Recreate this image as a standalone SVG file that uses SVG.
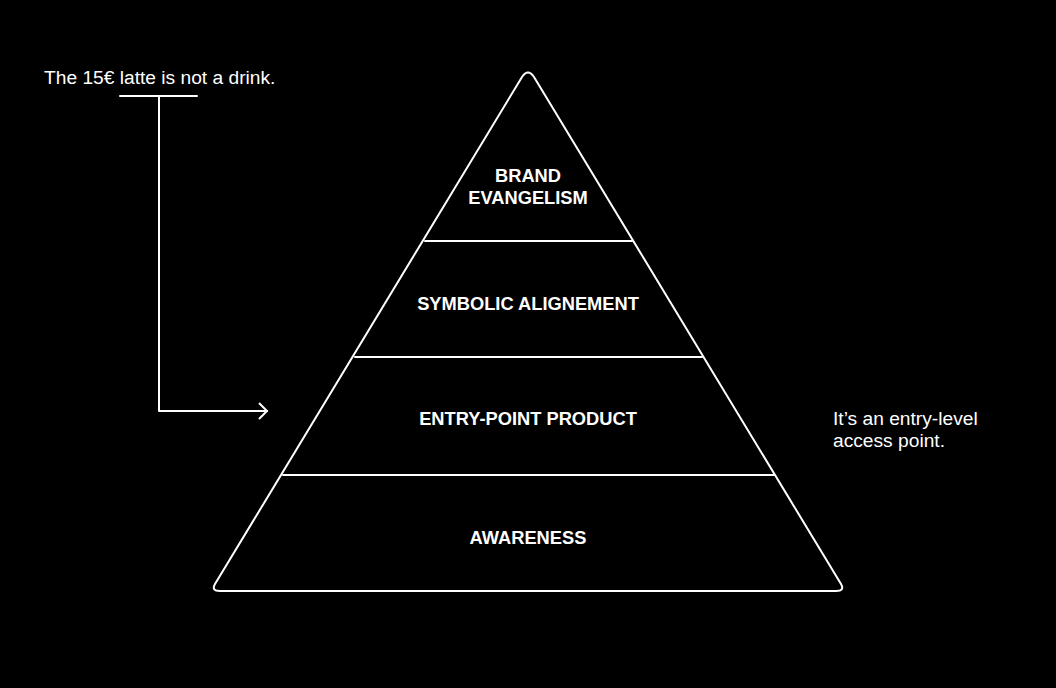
<svg xmlns="http://www.w3.org/2000/svg" width="1056" height="688" viewBox="0 0 1056 688">
<style>
.bg{fill:#000}
.ln{fill:none;stroke:#fff;stroke-width:2;stroke-linejoin:round;stroke-linecap:round}
.lbl{fill:#fff;font-family:"Liberation Sans",Arial,sans-serif;font-size:18.3px;font-weight:bold;text-anchor:middle}
.note{fill:#fff;font-family:"Liberation Sans",Arial,sans-serif;font-size:19.2px}
</style>
<defs>
<marker id="chev" viewBox="0 0 12 20" refX="10" refY="10" markerWidth="12" markerHeight="20" markerUnits="userSpaceOnUse" orient="auto">
<path d="M2,2 L10,10 L2,18" fill="none" stroke="#fff" stroke-width="2"/>
</marker>
</defs>
<rect class="bg" width="1056" height="688"/>
<g id="pyramid">
<path class="ln" d="M522,77 Q528,68 534,77 L841,584 Q845,591 836,591 L220,591 Q211,591 215,584 Z"/>
</g>
<g id="tier-brand-evangelism">
<line class="ln" x1="425" y1="241" x2="632" y2="241"/>
<text class="lbl" x="528" y="182">BRAND</text>
<text class="lbl" x="528" y="204">EVANGELISM</text>
</g>
<g id="tier-symbolic">
<line class="ln" x1="355" y1="357" x2="702" y2="357"/>
<text class="lbl" x="528" y="310">SYMBOLIC ALIGNEMENT</text>
</g>
<g id="tier-entry">
<line class="ln" x1="283" y1="475" x2="774" y2="475"/>
<text class="lbl" x="528" y="425">ENTRY-POINT PRODUCT</text>
</g>
<g id="tier-awareness">
<text class="lbl" x="528" y="544">AWARENESS</text>
</g>
<g id="note-latte">
<text class="note" x="44" y="84">The 15€ latte is not a drink.</text>
</g>
<g id="note-entry">
<text class="note" x="833" y="425">It’s an entry-level</text>
<text class="note" x="833" y="447">access point.</text>
</g>
<g id="connectors">
<line class="ln" x1="120" y1="96" x2="197" y2="96" stroke-linecap="butt"/>
<path class="ln" d="M159,96 L159,411 L267,411" stroke-linejoin="miter" marker-end="url(#chev)"/>
</g>
</svg>
